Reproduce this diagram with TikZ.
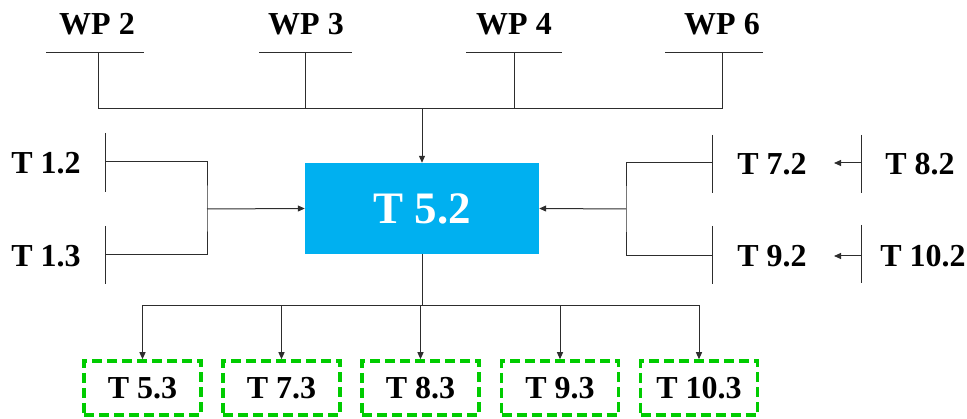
\documentclass[tikz,border=0pt]{standalone}
\usepackage{fontspec}
\setmainfont{Liberation Serif}
\usetikzlibrary{arrows.meta}
\definecolor{taskblue}{RGB}{0,176,240}
\definecolor{outgreen}{RGB}{0,204,0}
\definecolor{linegray}{RGB}{45,45,45}
\begin{document}
\begin{tikzpicture}[x=1pt,y=-1pt,
  lbl/.style={font=\fontsize{32}{36}\selectfont\bfseries, anchor=base, inner sep=0pt},
  wire/.style={draw=linegray, line width=1pt},
  arr/.style={wire, -{Triangle[length=7pt,width=6pt]}},
  mainbox/.style={fill=taskblue, minimum width=234pt, minimum height=91pt, inner sep=0pt,
    text=white, font=\fontsize{45}{50}\selectfont\bfseries},
  outbox/.style={draw=outgreen, line width=3.5pt, dash pattern=on 10pt off 5pt,
    minimum width=117pt, minimum height=54pt, inner sep=0pt,
    font=\fontsize{32}{36}\selectfont\bfseries},
]
\useasboundingbox (0,0) rectangle (967,419);

% central task
\node[mainbox] (t52) at (422,208.5) {T 5.2};

% work packages on top
\node[lbl] (wp2) at (97,35) {WP 2};
\node[lbl] (wp3) at (306,35) {WP 3};
\node[lbl] (wp4) at (514,35) {WP 4};
\node[lbl] (wp6) at (722,35) {WP 6};
\draw[wire] (46,53) -- (144,53);
\draw[wire] (259,53) -- (352,53);
\draw[wire] (466,53) -- (562,53);
\draw[wire] (665,53) -- (763,53);
\coordinate (w2) at (98,53);
\coordinate (w3) at (305,53);
\coordinate (w4) at (514,53);
\coordinate (w6) at (722,53);
\coordinate (jt) at (422,109);
\draw[wire] (w2) |- (jt);
\draw[wire] (w6) |- (jt);
\draw[wire] (w3) -- (w3 |- jt);
\draw[wire] (w4) -- (w4 |- jt);
\draw[arr] (jt) -- (t52.north);

% inputs on the left
\node[lbl] (t12) at (46,174) {T 1.2};
\node[lbl] (t13) at (46,267) {T 1.3};
\draw[wire] (105.5,133) -- (105.5,192);
\draw[wire] (105.5,226) -- (105.5,284);
\coordinate (b12) at (105.5,162);
\coordinate (b13) at (105.5,255);
\coordinate (jl) at (207,209);
\draw[wire] (b12) -| (jl) |- (b13);
\draw[arr] (jl) -- (t52.west);

% inputs on the right
\node[lbl] (t72) at (772,175) {T 7.2};
\node[lbl] (t92) at (772,267) {T 9.2};
\node[lbl] (t82) at (920,175) {T 8.2};
\node[lbl] (t102) at (923,267) {T 10.2};
\draw[wire] (712.5,135) -- (712.5,193);
\draw[wire] (712.5,226) -- (712.5,284);
\draw[wire] (861,135) -- (861,193);
\draw[wire] (861,225) -- (861,283);
\coordinate (b72) at (712.5,163);
\coordinate (b92) at (712.5,256);
\coordinate (jr) at (626,209);
\draw[wire] (b72) -| (jr) |- (b92);
\draw[arr] (jr) -- (t52.east);
\coordinate (b82) at (861,163);
\coordinate (e82) at (834,163);
\coordinate (b102) at (861,256);
\coordinate (e102) at (834,256);
\draw[arr] (b82) -- (e82);
\draw[arr] (b102) -- (e102);

% outputs at the bottom
\node[outbox] (o53) at (142.5,388) {T 5.3};
\node[outbox] (o73) at (281.5,388) {T 7.3};
\node[outbox] (o83) at (420.5,388) {T 8.3};
\node[outbox] (o93) at (560,388) {T 9.3};
\node[outbox] (o103) at (699,388) {T 10.3};
\coordinate (jb) at (422,306);
\draw[wire] (t52.south) -- (jb);
\foreach \o in {o53,o73,o83,o93,o103}
  \draw[arr] (jb) -| (\o.north);
\end{tikzpicture}
\end{document}
